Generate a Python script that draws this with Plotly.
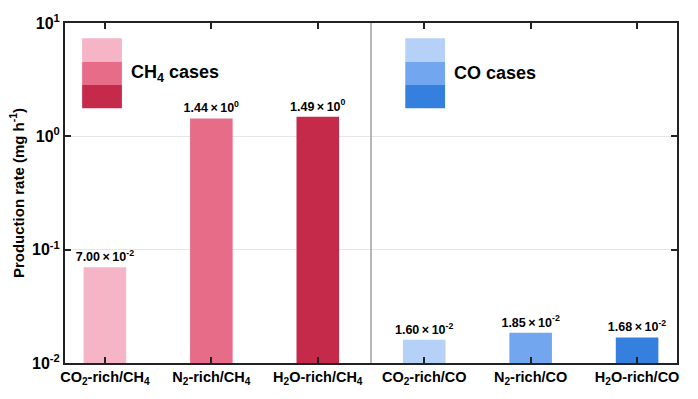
import plotly.graph_objects as go

categories = ["CO<sub>2</sub>-rich/CH<sub>4</sub>", "N<sub>2</sub>-rich/CH<sub>4</sub>", "H<sub>2</sub>O-rich/CH<sub>4</sub>",
              "CO<sub>2</sub>-rich/CO", "N<sub>2</sub>-rich/CO", "H<sub>2</sub>O-rich/CO"]
values = [7.00e-2, 1.44, 1.49, 1.60e-2, 1.85e-2, 1.68e-2]
value_labels = ["7.00\u2009×\u200910<sup>-2</sup>", "1.44\u2009×\u200910<sup>0</sup>", "1.49\u2009×\u200910<sup>0</sup>",
                "1.60\u2009×\u200910<sup>-2</sup>", "1.85\u2009×\u200910<sup>-2</sup>", "1.68\u2009×\u200910<sup>-2</sup>"]
colors = ["#F5B5C6", "#E76C88", "#C52A4B", "#B6D1F7", "#72A6EE", "#3580DE"]
ch4_colors = colors[:3]
co_colors = colors[3:]
ytick_vals = [0.01, 0.1, 1, 10]
ytick_text = ["10<sup>-2</sup>", "10<sup>-1</sup>", "10<sup>0</sup>", "10<sup>1</sup>"]

FONT = "Liberation Sans, Arial, sans-serif"
x = list(range(len(categories)))

fig = go.Figure()
fig.add_trace(go.Bar(
    x=x, y=values, marker=dict(color=colors, line=dict(width=0)),
    width=0.4, text=value_labels, textposition="outside", cliponaxis=False,
    constraintext="none",
    textfont=dict(family=FONT, size=12.5, color="black", weight="bold"),
    showlegend=False,
))

shapes = []
# separator
shapes.append(dict(type="line", xref="x", yref="paper", x0=2.5, x1=2.5, y0=0, y1=1,
                   line=dict(color="#A0A0A0", width=1.5)))
# legend patches
def patches(x0, x1, cols):
    top, bot = 0.955, 0.749
    h = (top - bot) / 3
    for i, c in enumerate(cols):
        shapes.append(dict(type="rect", xref="paper", yref="paper", x0=x0, x1=x1,
                           y0=top - (i + 1) * h, y1=top - i * h, fillcolor=c, line=dict(width=0), layer="above"))
patches(0.028, 0.093, ch4_colors)
patches(0.556, 0.621, co_colors)

fig.update_layout(
    width=698, height=399,
    margin=dict(l=65, r=21, t=16, b=25),
    plot_bgcolor="white", paper_bgcolor="white",
    font=dict(family=FONT, color="black"),
    shapes=shapes,
    annotations=[
        dict(text="CH<sub>4</sub> cases", xref="paper", yref="paper", x=0.104, y=0.852,
             xanchor="left", yanchor="middle", showarrow=False,
             font=dict(family=FONT, size=18, color="black", weight="bold")),
        dict(text="CO cases", xref="paper", yref="paper", x=0.632, y=0.852,
             xanchor="left", yanchor="middle", showarrow=False,
             font=dict(family=FONT, size=18, color="black", weight="bold")),
    ],
    xaxis=dict(range=[-0.375, 5.375], tickvals=x, ticktext=categories,
               showline=True, linecolor="#222", linewidth=2, mirror="ticks",
               ticks="inside", ticklen=6, tickwidth=1.5, tickcolor="#222",
               tickfont=dict(family=FONT, size=14.5, color="black", weight="bold"),
               showgrid=False, zeroline=False),
    yaxis=dict(type="log", range=[-2, 1], tickvals=ytick_vals, ticktext=ytick_text,
               showline=True, linecolor="#222", linewidth=2, mirror="ticks",
               ticks="inside", ticklen=6, tickwidth=1.5, tickcolor="#222",
               tickfont=dict(family=FONT, size=16, color="black", weight="bold"),
               showgrid=True, gridcolor="#E6E6E6", gridwidth=1,
               title=dict(text="Production rate (mg h<sup>-1</sup>)", standoff=4,
                          font=dict(family=FONT, size=15, color="black", weight="bold")),
               zeroline=False),
)

fig.write_html("out.html")
